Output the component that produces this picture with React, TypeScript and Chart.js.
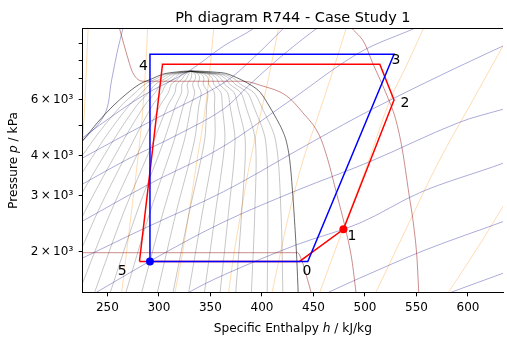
import React, { useEffect, useRef } from "react";
import { Chart, registerables } from "chart.js";

Chart.register(...registerables);

const FONT = "'DejaVu Sans', 'Liberation Sans', sans-serif";

// ---- axes ----
const hMin = 226;
const hMax = 634;
const pMin = 1490;
const pMax = 10051;
const xTickValues = [250, 300, 350, 400, 450, 500, 550, 600];
const yTickValues = [2000, 3000, 4000, 5000, 6000, 7000, 8000, 9000];
const yLabelValues = [2000, 3000, 4000, 6000];
const yLabelTexts = ["2\u2009×\u200910³", "3\u2009×\u200910³", "4\u2009×\u200910³", "6\u2009×\u200910³"];

const titleText = "Ph diagram R744 - Case Study 1";

// ---- saturation dome ----
const domeH = [213, 226, 240.5, 255.4, 268, 281.1, 293.5, 303.5, 317, 331, 345, 356, 364.4, 379, 390, 398.6, 407, 414.4, 420, 424, 427.2, 430, 432, 433.8, 435.3];
const domeP = [4050, 4470, 5100, 5742, 6250, 6722, 7000, 7225, 7345, 7400, 7375, 7330, 7278, 6966, 6660, 6324, 5742, 5215, 4800, 4402, 3828, 3000, 2397, 1900, 1450];

// ---- quality lines (x = 0.05 ... 0.95), enthalpy at each pressure level ----
const qualityLevels = [1490, 2649, 4470, 5742, 6324, 6722, 7000, 7225, 7390];
const qH1490 = [146.2, 161.5, 176.7, 191.9, 207.1, 222.4, 237.6, 252.8, 268.0, 283.3, 298.5, 313.7, 328.9, 344.2, 359.4, 374.6, 389.8, 405.1, 420.3];
const qH2649 = [189.2, 202.0, 214.7, 227.4, 240.2, 252.9, 265.6, 278.4, 291.1, 303.9, 316.6, 329.3, 342.1, 354.8, 367.5, 380.3, 393.0, 405.7, 418.5];
const qH4470 = [235.9, 245.7, 255.6, 265.4, 275.3, 285.2, 295.0, 304.9, 314.7, 324.6, 334.5, 344.3, 354.2, 364.0, 373.9, 383.8, 393.6, 403.5, 413.3];
const qH5742 = [263.0, 270.6, 278.1, 285.7, 293.3, 300.9, 308.4, 316.0, 323.6, 331.2, 338.7, 346.3, 353.9, 361.5, 369.0, 376.6, 384.2, 391.8, 399.3];
const qH6324 = [277.1, 283.5, 289.9, 296.3, 302.7, 309.1, 315.5, 321.9, 328.3, 334.7, 341.0, 347.4, 353.8, 360.2, 366.6, 373.0, 379.4, 385.8, 392.2];
const qH6722 = [286.3, 291.4, 296.6, 301.7, 306.9, 312.1, 317.2, 322.4, 327.5, 332.7, 337.9, 343.0, 348.2, 353.3, 358.5, 363.7, 368.8, 374.0, 379.1];
const qH7000 = [297.7, 301.9, 306.0, 310.2, 314.4, 318.6, 322.7, 326.9, 331.1, 335.3, 339.4, 343.6, 347.8, 352.0, 356.1, 360.3, 364.5, 368.7, 372.8];
const qH7225 = [306.7, 309.8, 313.0, 316.1, 319.3, 322.4, 325.6, 328.7, 331.9, 335.1, 338.2, 341.4, 344.5, 347.7, 350.8, 354.0, 357.1, 360.3, 363.4];
const qH7390 = [331, 331, 331, 331, 331, 331, 331, 331, 331, 331, 331, 331, 331, 331, 331, 331, 331, 331, 331];

// ---- isotherms ----
const t1H = [261.8, 268.3, 274.6, 285, 382, 398.4, 424, 439.7, 456, 464, 472.4, 480.6, 487.3, 491.3];
const t1P = [10051, 8448, 7307, 6870, 6870, 6672, 6175, 5470, 4622, 3885, 3052, 2397, 1883, 1490];
const t2H = [220, 434.5, 438.5, 447.7];
const t2P = [1985, 1985, 1883, 1490];
const t3H = [487.6, 499.3, 507.3, 520.2, 529.8, 536.2, 542.6, 547.4, 550.6, 552.2];
const t3P = [10051, 9083, 7860, 6323, 5215, 4198, 3052, 2397, 1883, 1490];

// ---- isochores ----
const v1H = [213.8, 226, 247.4, 254.1, 259.9, 265.0, 266.6];
const v1P = [4039, 4457, 5408, 6934, 8614, 10051, 10705];
const v2H = [226, 242.6, 283.9, 329.1, 362.8, 391.6, 400];
const v2P = [4560, 5005, 6174, 7400, 8867, 10051, 10700];
const v3H = [215.7, 226, 290.7, 362.8, 391.6, 420.5, 430];
const v3P = [3754, 3942, 5115, 6786, 8129, 10051, 10800];
const v4H = [215.7, 226, 268.3, 319.5, 362.8, 386.8, 408, 431.1, 452.9, 465.7];
const v4P = [3126, 3264, 3885, 4688, 5619, 6640, 7674, 8867, 10051, 10705];
const v5H = [215.7, 226, 290.7, 359.9, 425.3, 494.5, 547.4, 565.7];
const v5P = [2393, 2497, 3264, 4237, 5911, 8447, 10051, 10666];
const v6H = [215.7, 226, 290.7, 362.8, 434.9, 494.5, 558.7, 633.9, 656];
const v6P = [1842, 1911, 2408, 3088, 4176, 5342, 6800, 8867, 9533];
const v7H = [218.6, 239.4, 300.3, 362.8, 434.9, 504.1, 590.7, 633.9, 656];
const v7P = [1359, 1490, 1939, 2479, 3126, 3829, 5089, 5607, 5868];
const v8H = [309.9, 329.1, 362.8, 433, 494.5, 555.4, 633.9, 656];
const v8P = [1359, 1490, 1689, 2099, 2456, 3088, 3793, 4086];
const v9H = [439.8, 464.7, 494.5, 558.7, 633.9, 656];
const v9P = [1359, 1490, 1649, 2025, 2485, 2646];
const v10H = [550.3, 581.1, 633.9, 656];
const v10P = [1359, 1480, 1710, 1816];

// ---- isentropes ----
const s1H = [232, 231.3, 228.2, 226, 223.4];
const s1P = [10705, 10051, 5998, 4489, 3613];
const s2H = [289.5, 289.0, 287.5, 286.2, 283.5, 279.4, 272.4, 263.8, 262.3];
const s2P = [10705, 10051, 8013, 6833, 5189, 3885, 2515, 1490, 1389];
const s3H = [354, 353.2, 348.4, 342.6, 337.8, 331.1, 323.4, 315.7, 314.5];
const s3P = [10705, 10051, 6934, 5005, 4027, 2907, 2025, 1490, 1389];
const s4H = [417.6, 416.0, 407.0, 397.4, 388.8, 380.1, 373.4, 367.6, 366.6];
const s4P = [10705, 10051, 7189, 5189, 3885, 2704, 2025, 1490, 1389];
const s5H = [484.4, 481.7, 467.6, 453.2, 440.0, 427.2, 418.6, 409.9, 407.9];
const s5P = [10705, 10051, 7189, 5189, 3885, 2704, 2025, 1490, 1389];
const s6H = [560.6, 556.7, 540.6, 524.3, 502.2, 479.1, 456.1, 452.4];
const s6P = [10705, 10051, 7727, 5998, 3746, 2374, 1490, 1389];
const s7H = [643.3, 634, 603.2, 571.4, 540.7, 510.6, 505.9];
const s7P = [10051, 8868, 5868, 3828, 2385, 1490, 1389];
const s8H = [646.5, 634, 608, 581.1, 574.9];
const s8P = [3217, 2770, 2025, 1490, 1389];

// ---- cycles ----
const redH = [281.1, 303.5, 514.4, 528.2, 479.1, 436.5, 281.1];
const redP = [1863, 7768, 7768, 5998, 2352, 1863, 1863];
const blueH = [291.3, 291.3, 528.2, 444.5, 291.3];
const blueP = [1863, 8351, 8351, 1863, 1863];
const redMarkH = [479.1];
const redMarkP = [2352];
const blueMarkH = [291.3];
const blueMarkP = [1863];

// ---- state labels ----
const stateNames = ["0", "1", "2", "3", "4", "5"];
const stateH = [443.8, 487.3, 538.8, 530.1, 284.9, 264.4];
const stateP = [1730, 2229, 5856, 7993, 7671, 1730];

const ISOCHORE = "rgba(0,0,139,0.33)";
const ISENTROPE = "rgba(255,140,0,0.3)";
const ISOTHERM = "rgba(139,0,0,0.45)";
const QUALITY = "rgba(0,0,0,0.3)";
const DOME = "rgba(0,0,0,0.58)";

function pts(hs: number[], ps: number[]) {
  return hs.map((h, i) => ({ x: h, y: ps[i] }));
}

function curve(hs: number[], ps: number[], color: string, width: number, extra: any = {}) {
  return {
    data: pts(hs, ps),
    showLine: true,
    borderColor: color,
    backgroundColor: color,
    borderWidth: width,
    pointRadius: 0,
    pointHoverRadius: 0,
    fill: false,
    tension: 0.35,
    ...extra,
  };
}

function marker(hs: number[], ps: number[], color: string) {
  return {
    data: pts(hs, ps),
    showLine: false,
    pointRadius: 4,
    pointHoverRadius: 4,
    pointBackgroundColor: color,
    pointBorderColor: color,
    pointBorderWidth: 0,
  };
}

function drawParts(ctx: CanvasRenderingContext2D, parts: [string, boolean][], size: number, cx: number, y: number) {
  const widths = parts.map(([t, it]) => {
    ctx.font = `${it ? "italic " : ""}${size}px ${FONT}`;
    return ctx.measureText(t).width;
  });
  const total = widths.reduce((a, b) => a + b, 0);
  let x = cx - total / 2;
  ctx.textAlign = "left";
  parts.forEach(([t, it], i) => {
    ctx.font = `${it ? "italic " : ""}${size}px ${FONT}`;
    ctx.fillText(t, x, y);
    x += widths[i];
  });
}

const overlay = {
  id: "overlay",
  afterDraw(chart: any) {
    const { ctx, chartArea, scales } = chart;
    const xs = scales.x;
    const ys = scales.y;
    ctx.save();
    // top spine
    ctx.strokeStyle = "#000";
    ctx.lineWidth = 1;
    ctx.beginPath();
    ctx.moveTo(chartArea.left - 0.5, 28.5);
    ctx.lineTo(chartArea.right, 28.5);
    ctx.stroke();

    ctx.fillStyle = "#000";
    ctx.textBaseline = "alphabetic";
    const cx = (chartArea.left + chartArea.right) / 2;
    const cy = (chartArea.top + chartArea.bottom) / 2;

    // title
    ctx.font = `14.5px ${FONT}`;
    ctx.textAlign = "center";
    ctx.fillText(titleText, cx, 21.5);

    // x label
    drawParts(ctx, [["Specific Enthalpy ", false], ["h", true], [" / kJ/kg", false]], 12.2, cx, 332);

    // y label
    ctx.save();
    ctx.translate(17.2, cy);
    ctx.rotate(-Math.PI / 2);
    drawParts(ctx, [["Pressure ", false], ["p", true], [" / kPa", false]], 12.2, 0, 0);
    ctx.restore();

    // state labels
    ctx.font = `14px ${FONT}`;
    ctx.textAlign = "center";
    ctx.textBaseline = "middle";
    stateNames.forEach((n, i) => {
      ctx.fillText(n, xs.getPixelForValue(stateH[i]), ys.getPixelForValue(stateP[i]));
    });
    ctx.restore();
  },
};

export default function App() {
  const ref = useRef<HTMLCanvasElement | null>(null);

  useEffect(() => {
    const canvas = ref.current;
    if (!canvas) return;

    const qualityArrays = [qH1490, qH2649, qH4470, qH5742, qH6324, qH6722, qH7000, qH7225, qH7390];
    const qualityDatasets = qH1490.map((_, k) =>
      curve(qualityArrays.map((a) => a[k]), qualityLevels, QUALITY, 0.75, { tension: 0.3 })
    );

    const datasets: any[] = [
      marker(blueMarkH, blueMarkP, "#0000ff"),
      marker(redMarkH, redMarkP, "#ff0000"),
      curve(blueH, blueP, "#0000ff", 1.5, { tension: 0 }),
      curve(redH, redP, "#ff0000", 1.5, { tension: 0 }),
      curve(domeH, domeP, DOME, 1, { tension: 0, cubicInterpolationMode: "monotone" }),
      curve(t1H, t1P, ISOTHERM, 1, { cubicInterpolationMode: "monotone" }),
      curve(t2H, t2P, ISOTHERM, 1, { cubicInterpolationMode: "monotone" }),
      curve(t3H, t3P, ISOTHERM, 1, { cubicInterpolationMode: "monotone" }),
      ...qualityDatasets,
      curve(v1H, v1P, ISOCHORE, 1),
      curve(v2H, v2P, ISOCHORE, 1),
      curve(v3H, v3P, ISOCHORE, 1),
      curve(v4H, v4P, ISOCHORE, 1),
      curve(v5H, v5P, ISOCHORE, 1),
      curve(v6H, v6P, ISOCHORE, 1),
      curve(v7H, v7P, ISOCHORE, 1),
      curve(v8H, v8P, ISOCHORE, 1),
      curve(v9H, v9P, ISOCHORE, 1),
      curve(v10H, v10P, ISOCHORE, 1),
      curve(s1H, s1P, ISENTROPE, 1),
      curve(s2H, s2P, ISENTROPE, 1),
      curve(s3H, s3P, ISENTROPE, 1),
      curve(s4H, s4P, ISENTROPE, 1),
      curve(s5H, s5P, ISENTROPE, 1),
      curve(s6H, s6P, ISENTROPE, 1),
      curve(s7H, s7P, ISENTROPE, 1),
      curve(s8H, s8P, ISENTROPE, 1),
    ];

    const chart = new Chart(canvas, {
      type: "scatter",
      data: { datasets },
      options: {
        animation: false,
        responsive: false,
        events: [],
        layout: { padding: { top: 28.7, left: 0, right: 0, bottom: 0 } },
        plugins: {
          legend: { display: false },
          title: { display: false },
          tooltip: { enabled: false },
        },
        elements: {
          line: { capBezierPoints: false, borderJoinStyle: "miter" },
          point: { radius: 0 },
        },
        scales: {
          x: {
            type: "linear",
            min: hMin,
            max: hMax,
            afterBuildTicks: (s: any) => {
              s.ticks = xTickValues.map((v) => ({ value: v }));
            },
            afterFit: (s: any) => {
              s.height = 48.7;
            },
            grid: { display: true, drawOnChartArea: false, drawTicks: true, tickLength: 4, color: "#000", lineWidth: 1 },
            border: { display: true, color: "#000", width: 1 },
            ticks: {
              color: "#000",
              font: { family: FONT, size: 12 },
              padding: 4,
              maxRotation: 0,
              autoSkip: false,
              callback: (v: any) => String(v),
            },
          },
          y: {
            type: "logarithmic",
            min: pMin,
            max: pMax,
            afterBuildTicks: (s: any) => {
              s.ticks = yTickValues.map((v) => ({ value: v }));
            },
            afterFit: (s: any) => {
              s.width = 82.7;
            },
            grid: { display: true, drawOnChartArea: false, drawTicks: true, tickLength: 4, color: "#000", lineWidth: 1 },
            border: { display: true, color: "#000", width: 1 },
            ticks: {
              color: "#000",
              font: { family: FONT, size: 12 },
              padding: 5.5,
              autoSkip: false,
              callback: (v: any) => {
                const i = yLabelValues.indexOf(Number(v));
                return i >= 0 ? yLabelTexts[i] : "";
              },
            },
          },
        },
      },
      plugins: [overlay],
    } as any);

    return () => {
      chart.destroy();
    };
  }, []);

  return (
    <div style={{ position: "absolute", left: 0, top: 0, width: 507, height: 341, background: "#fff" }}>
      <canvas ref={ref} width={507} height={341} style={{ display: "block", width: 507, height: 341 }} />
    </div>
  );
}
